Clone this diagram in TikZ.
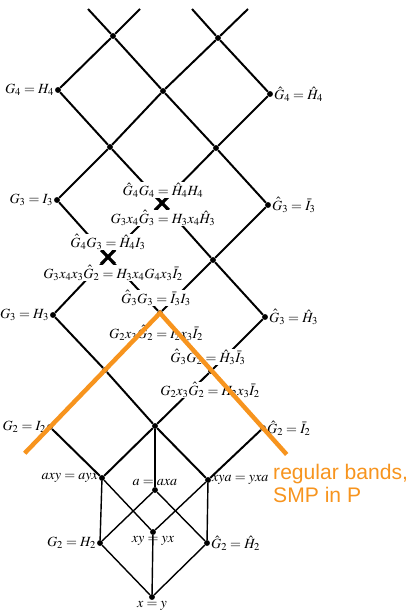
\documentclass[tikz,border=0pt]{standalone}
\usepackage{mathptmx}
\usepackage[no-math]{fontspec}
\newfontfamily\bandfont{Liberation Sans}
\usetikzlibrary{calc, positioning, shapes.misc}

\definecolor{bandorange}{RGB}{247,148,30}

\tikzset{
  dot/.style={circle, fill=black, inner sep=0pt, minimum size=5pt},
  bigx/.style={cross out, draw=black, line width=2.8pt, inner sep=0pt, minimum width=8.5pt, minimum height=9pt},
  lab/.style={font=\fontsize{12}{14}\selectfont, inner sep=0.6pt},
  midlab/.style={lab, fill=white},
  latline/.style={line width=1.7pt},
  cubeline/.style={line width=1.2pt},
  bandline/.style={draw=bandorange, line width=3.8pt},
  bandtext/.style={text=bandorange, font=\bandfont\fontsize{18}{20}\selectfont, align=left, inner sep=0pt}
}

\begin{document}
\begin{tikzpicture}[x=0.03cm, y=-0.03cm]

% Fix the page to the size of the reference
\useasboundingbox (0,0) rectangle (413,612);

% Free ends of the lines at the top edge
\coordinate (tl1) at (88,9);
\coordinate (tr1) at (140,9);
\coordinate (tl2) at (192,9);
\coordinate (tr2) at (248,9);

% Nodes of the upper lattice
\node[dot] (t1) at (113,36) {};
\node[dot] (t2) at (218,38) {};
\node[dot, label={[lab]left:$G_4 = H_4$}] (g4) at (58,90) {};
\node[dot] (c4) at (163,91) {};
\node[dot, label={[lab]right:$\hat G_4 = \hat H_4$}] (gh4) at (270,94) {};
\node[dot] (b1) at (110,147) {};
\node[dot] (b2) at (216,148) {};
\node[dot, label={[lab]left:$G_3 = I_3$}] (g3i) at (57,200) {};
\node[bigx] (x4) at (162,203) {};
\node[dot, label={[lab]right:$\hat G_3 = \bar I_3$}] (gi3) at (268,205) {};
\node[bigx] (x3) at (108,257) {};
\node[dot] (m3) at (213,260) {};
\node[dot, label={[lab]left:$G_3 = H_3$}] (g3h) at (53,315) {};
\node[dot] (ii3) at (160,313) {};
\node[dot, label={[lab]right:$\hat G_3 = \hat H_3$}] (gh3) at (265,317) {};
\node[dot] (m2) at (105,370) {};
\node[dot] (hi3) at (211,371) {};
\node[dot, label={[lab]left:$G_2 = I_2$}] (g2i) at (50,427) {};
\node[dot] (reg) at (155,426) {};
\node[dot, label={[lab]right:$\hat G_2 = \bar I_2$}] (gi2) at (263,428) {};

% Nodes of the cube at the bottom
\node[dot, label={[lab]left:$axy = ayx$}] (axy) at (102,478) {};
\node[dot, label={[lab]above:$a = axa$}] (axa) at (155,490) {};
\node[dot, label={[lab]right:$xya = yxa$}] (xya) at (208,480) {};
\node[dot, label={[lab]left:$G_2 = H_2$}] (g2h) at (100,543) {};
\node[dot, label={[lab]below:$xy = yx$}] (xy) at (153,532) {};
\node[dot, label={[lab]right:$\hat G_2 = \hat H_2$}] (gh2) at (207,543) {};
\node[dot, label={[lab]below:$x = y$}] (xeqy) at (152,597) {};

% Lines running down to the right
\draw[latline] (tl1) -- (t1) -- (c4) -- (b2) -- (gi3);
\draw[latline] (tl2) -- (t2) -- (gh4);
\draw[latline] (g4) -- (b1) -- (x4) -- (m3) -- (gh3);
\draw[latline] (g3i) -- (x3) -- (ii3) -- (hi3) -- (gi2);
\draw[latline] (g3h) -- (m2) -- (reg) -- (xya);
\draw[latline] (g2i) -- (axy);

% Lines running up to the right
\draw[latline] (g4) -- (t1) -- (tr1);
\draw[latline] (g3i) -- (b1) -- (c4) -- (t2) -- (tr2);
\draw[latline] (x4) -- (b2) -- (gh4);
\draw[latline] (g3h) -- (x3) -- (x4);
\draw[latline] (g2i) -- (m2) -- (ii3) -- (m3) -- (gi3);
\draw[latline] (axy) -- (reg) -- (hi3) -- (gh3);
\draw[latline] (xya) -- (gi2);

% Edges of the cube
\draw[cubeline] (reg) -- (axa);
\draw[cubeline] (axy) -- (g2h) -- (xeqy);
\draw[cubeline] (axy) -- (xy) -- (xeqy);
\draw[cubeline] (axa) -- (g2h);
\draw[cubeline] (axa) -- (gh2) -- (xeqy);
\draw[cubeline] (xya) -- (xy);
\draw[cubeline] (xya) -- (gh2);

% Labels sitting on the lines above and below the inner nodes
\node[midlab] (x4up) at (163,190) {$\hat G_4 G_4 = \hat H_4 H_4$};
\node[midlab] (x4dn) at (163,218) {$G_3 x_4 \hat G_3 = H_3 x_4 \hat H_3$};
\node[midlab] (x3up) at (108,242) {$\hat G_4 G_3 = \hat H_4 I_3$};
\node[midlab] (x3dn) at (113,273) {$G_3 x_4 x_3 \hat G_2 = H_3 x_4 G_4 x_3 \bar I_2$};
\node[midlab] (ii3up) at (156,298) {$\hat G_3 G_3 = \bar I_3 I_3$};
\node[midlab] (ii3dn) at (156,333) {$G_2 x_3 \hat G_2 = I_2 x_3 \bar I_2$};
\node[midlab] (hi3up) at (208,357) {$\hat G_3 G_2 = \hat H_3 \bar I_3$};
\node[midlab] (hi3dn) at (210,390) {$G_2 x_3 \hat G_2 = H_2 x_3 \bar I_2$};

% Orange band marking the regular bands
\coordinate (bandl) at ($(ii3.center)!1.23!(g2i.center)$);
\coordinate (bandr) at ($(ii3.center)!1.23!(gi2.center)$);
\draw[bandline] (bandl) -- (ii3.center) -- (bandr);
\node[bandtext, anchor=north west] (bandnote) at (273,464) {regular bands,\\SMP in P};

\end{tikzpicture}
\end{document}
